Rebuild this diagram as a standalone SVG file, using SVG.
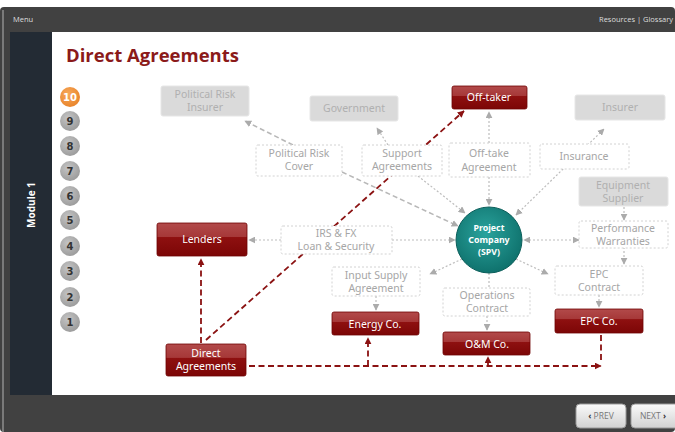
<svg xmlns="http://www.w3.org/2000/svg" width="675" height="432" viewBox="0 0 675 432">
<defs>
<linearGradient id="red" x1="0" y1="0" x2="0" y2="1">
<stop offset="0" stop-color="#b24a4a"/><stop offset="0.42" stop-color="#a63838"/><stop offset="0.44" stop-color="#8e1010"/><stop offset="1" stop-color="#7c0606"/>
</linearGradient>
<linearGradient id="btn" x1="0" y1="0" x2="0" y2="1">
<stop offset="0" stop-color="#fafafa"/><stop offset="1" stop-color="#d2d2d2"/>
</linearGradient>
<radialGradient id="teal" cx="0.45" cy="0.4" r="0.6">
<stop offset="0" stop-color="#2aa39d"/><stop offset="1" stop-color="#0f726d"/>
</radialGradient>
<radialGradient id="gc" cx="0.4" cy="0.35" r="0.7">
<stop offset="0" stop-color="#c4c4c4"/><stop offset="1" stop-color="#9a9a9a"/>
</radialGradient>
<radialGradient id="oc" cx="0.4" cy="0.35" r="0.7">
<stop offset="0" stop-color="#f7a95a"/><stop offset="1" stop-color="#e8832a"/>
</radialGradient>
<marker id="ag" viewBox="0 0 10 10" refX="9" refY="5" markerWidth="7" markerHeight="7" markerUnits="userSpaceOnUse" orient="auto-start-reverse">
<path d="M0,0 L10,5 L0,10 z" fill="#ababab"/>
</marker>
<marker id="ar" viewBox="0 0 10 10" refX="9" refY="5" markerWidth="7" markerHeight="7" markerUnits="userSpaceOnUse" orient="auto-start-reverse">
<path d="M0,0 L10,5 L0,10 z" fill="#8b1212"/>
</marker>
<style>
.t{font-family:"Noto Sans","DejaVu Sans",sans-serif;font-size:10.5px;text-anchor:middle}
.gb{fill:#dadada;stroke:#e6e6e6;stroke-width:1}
.gt{fill:#b0b0b0}
.db{fill:#ffffff;stroke:#d2d2d2;stroke-width:1;stroke-dasharray:2 2}
.dt{fill:#a6a6a6}
.rb{fill:url(#red);stroke:#6e0303;stroke-width:0.8}
.rt{fill:#ffffff}
.st{fill:#ffffff;font-weight:bold;font-size:8.8px}
.gl{fill:none;stroke:#bdbdbd;stroke-width:1.2;stroke-dasharray:2 2;marker-end:url(#ag)}
.gd{fill:none;stroke:#b8b8b8;stroke-width:1.6;stroke-dasharray:5 3;marker-end:url(#ag)}
.rl{fill:none;stroke:#8b1212;stroke-width:1.8;stroke-dasharray:6 3.5}
.num{font-family:"DejaVu Sans",sans-serif;font-size:10px;font-weight:bold;text-anchor:middle;fill:#333}
</style>
</defs>

<!-- frame -->
<rect x="0" y="0" width="675" height="432" fill="#ffffff"/>
<rect x="0" y="7" width="675" height="425" rx="4" fill="#414141"/>
<rect x="2" y="10" width="2" height="422" fill="#7a7a7a"/>
<rect x="10" y="32" width="42" height="363" fill="#232b34"/>
<rect x="52" y="32" width="623" height="363" fill="#ffffff"/>
<text x="13" y="22" font-family="Open Sans, sans-serif" font-size="7.5" fill="#dddddd">Menu</text>
<text x="673" y="22" font-family="Open Sans, sans-serif" font-size="7.5" fill="#dddddd" text-anchor="end">Resources  |  Glossary</text>
<text transform="translate(35,205) rotate(-90)" font-family="Open Sans, sans-serif" font-size="10" font-weight="bold" fill="#ffffff" text-anchor="middle">Module 1</text>
<text x="66" y="62" font-family="Open Sans, sans-serif" font-size="18.5" font-weight="bold" fill="#8b1a1a">Direct Agreements</text>

<!-- step circles -->
<g id="steps">
<circle cx="70" cy="97" r="10" fill="url(#oc)"/><text x="70" y="101" class="num" style="fill:#fff">10</text>
<circle cx="70" cy="121" r="10" fill="url(#gc)"/><text x="70" y="125" class="num">9</text>
<circle cx="70" cy="146" r="10" fill="url(#gc)"/><text x="70" y="150" class="num">8</text>
<circle cx="70" cy="171" r="10" fill="url(#gc)"/><text x="70" y="175" class="num">7</text>
<circle cx="70" cy="196" r="10" fill="url(#gc)"/><text x="70" y="200" class="num">6</text>
<circle cx="70" cy="220" r="10" fill="url(#gc)"/><text x="70" y="224" class="num">5</text>
<circle cx="70" cy="246" r="10" fill="url(#gc)"/><text x="70" y="250" class="num">4</text>
<circle cx="70" cy="271" r="10" fill="url(#gc)"/><text x="70" y="275" class="num">3</text>
<circle cx="70" cy="297" r="10" fill="url(#gc)"/><text x="70" y="301" class="num">2</text>
<circle cx="70" cy="322" r="10" fill="url(#gc)"/><text x="70" y="326" class="num">1</text>
</g>

<!-- connectors -->
<g id="connectors">
<path class="gd" d="M293,145 L245,121"/>
<path class="gd" d="M342,172 L458,226"/>
<path class="gl" d="M388,145 L377,128"/>
<path class="gl" d="M418,176 L465,213"/>
<path class="gl" d="M489,143 L489,112"/>
<path class="gl" d="M489,177 L489,205"/>
<path class="gl" d="M516,215 L604,129" style="marker-start:url(#ag)"/>
<path class="gl" d="M624,207 L624,220"/>
<path class="gl" d="M579,240 L524,240" style="marker-start:url(#ag)"/>
<path class="gl" d="M624,247 L624,264"/>
<path class="gl" d="M516,259 L548,274"/>
<path class="gl" d="M462,259 L430,274"/>
<path class="gl" d="M489,273 L489,288" style="marker-end:none"/>
<path class="gl" d="M487,316 L487,330"/>
<path class="gl" d="M376,296 L376,310"/>
<path class="gl" d="M599,295 L599,307"/>
<path class="gl" d="M281,240 L249,240"/>
<path class="gl" d="M392,240 L455,240"/>
<path class="rl" d="M201,343 L201,259" marker-end="url(#ar)"/>
<path class="rl" d="M206,340 L464,111" marker-end="url(#ar)"/>
<path class="rl" d="M249,366 L601,366" marker-end="url(#ar)"/>
<path class="rl" d="M601,335 L601,361"/>
<path class="rl" d="M368,366 L368,338" marker-end="url(#ar)"/>
<path class="rl" d="M488,366 L488,357" marker-end="url(#ar)"/>
</g>

<!-- nodes -->
<g id="pri"><rect class="gb" x="161" y="86" width="88" height="30" rx="2"/><text class="t gt" x="205" y="98">Political Risk</text><text class="t gt" x="205" y="111">Insurer</text></g>
<g id="gov"><rect class="gb" x="310" y="96" width="88" height="25" rx="2"/><text class="t gt" x="354" y="112">Government</text></g>
<g id="offtaker"><rect class="rb" x="452" y="86" width="75" height="23" rx="2"/><text class="t rt" x="489" y="101">Off-taker</text></g>
<g id="insurer"><rect class="gb" x="575" y="95" width="90" height="25" rx="2"/><text class="t gt" x="620" y="111">Insurer</text></g>
<g id="prc"><rect class="db" x="256" y="145" width="86" height="31" rx="2"/><text class="t dt" x="299" y="157">Political Risk</text><text class="t dt" x="299" y="170">Cover</text></g>
<g id="sa"><rect class="db" x="362" y="145" width="80" height="31" rx="2"/><text class="t dt" x="402" y="157">Support</text><text class="t dt" x="402" y="170">Agreements</text></g>
<g id="oa"><rect class="db" x="449" y="143" width="81" height="34" rx="2"/><text class="t dt" x="489" y="157">Off-take</text><text class="t dt" x="489" y="171">Agreement</text></g>
<g id="ins"><rect class="db" x="540" y="144" width="89" height="25" rx="2"/><text class="t dt" x="584" y="160">Insurance</text></g>
<g id="es"><rect class="gb" x="579" y="177" width="89" height="29" rx="2"/><text class="t gt" x="623" y="189">Equipment</text><text class="t gt" x="623" y="202">Supplier</text></g>
<g id="pw"><rect class="db" x="579" y="221" width="89" height="27" rx="2"/><text class="t dt" x="623" y="232">Performance</text><text class="t dt" x="623" y="245">Warranties</text></g>
<g id="epcc"><rect class="db" x="555" y="266" width="88" height="29" rx="2"/><text class="t dt" x="599" y="278">EPC</text><text class="t dt" x="599" y="291">Contract</text></g>
<g id="spv"><circle cx="489" cy="240" r="33" fill="url(#teal)" stroke="#0c5f5b" stroke-width="1"/>
<text class="t st" x="489" y="231">Project</text>
<text class="t st" x="489" y="243">Company</text>
<text class="t st" x="489" y="255">(SPV)</text></g>
<g id="lenders"><rect class="rb" x="157" y="223" width="90" height="33" rx="2"/><text class="t rt" x="202" y="243">Lenders</text></g>
<g id="irs"><rect class="db" x="281" y="226" width="111" height="28" rx="2"/><text class="t dt" x="336" y="237">IRS &amp; FX</text><text class="t dt" x="336" y="250">Loan &amp; Security</text></g>
<g id="isa"><rect class="db" x="332" y="267" width="88" height="29" rx="2"/><text class="t dt" x="376" y="279">Input Supply</text><text class="t dt" x="376" y="292">Agreement</text></g>
<g id="energy"><rect class="rb" x="332" y="312" width="87" height="23" rx="2"/><text class="t rt" x="375" y="328">Energy Co.</text></g>
<g id="da"><rect class="rb" x="166" y="344" width="80" height="32" rx="2"/><text class="t rt" x="206" y="357">Direct</text><text class="t rt" x="206" y="370">Agreements</text></g>
<g id="ocn"><rect class="db" x="443" y="288" width="87" height="28" rx="2"/><text class="t dt" x="487" y="299">Operations</text><text class="t dt" x="487" y="312">Contract</text></g>
<g id="om"><rect class="rb" x="443" y="332" width="87" height="23" rx="2"/><text class="t rt" x="487" y="348">O&amp;M Co.</text></g>
<g id="epcco"><rect class="rb" x="555" y="309" width="88" height="24" rx="2"/><text class="t rt" x="599" y="325">EPC Co.</text></g>

<!-- footer buttons -->
<g id="prev"><rect x="576" y="404" width="50" height="24" rx="4" fill="url(#btn)" stroke="#999"/><text x="601" y="419" font-family="Open Sans, sans-serif" font-size="8.5" fill="#777" text-anchor="middle"><tspan font-weight="bold" fill="#333">‹</tspan> PREV</text></g>
<g id="next"><rect x="631" y="404" width="50" height="24" rx="4" fill="url(#btn)" stroke="#999"/><text x="653" y="419" font-family="Open Sans, sans-serif" font-size="8.5" fill="#777" text-anchor="middle">NEXT <tspan font-weight="bold" fill="#333">›</tspan></text></g>
</svg>
